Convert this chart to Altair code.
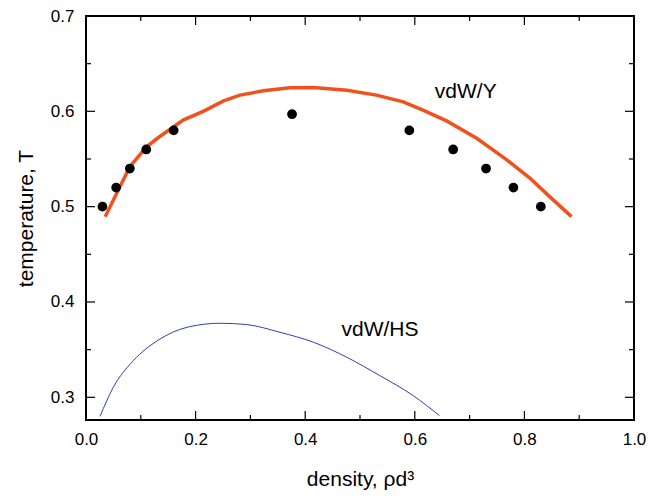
import altair as alt
import pandas as pd

# simulation points
pts_density = [0.03, 0.055, 0.08, 0.11, 0.16, 0.376, 0.59, 0.67, 0.73, 0.78, 0.83]
pts_temp = [0.50, 0.52, 0.54, 0.56, 0.58, 0.597, 0.58, 0.56, 0.54, 0.52, 0.50]

# vdW/Y curve
vy_density = [0.035, 0.056, 0.080, 0.111, 0.131, 0.178, 0.214, 0.251, 0.281, 0.324,
              0.372, 0.415, 0.476, 0.530, 0.579, 0.616, 0.658, 0.713, 0.768, 0.810,
              0.847, 0.886]
vy_temp = [0.4895, 0.514, 0.542, 0.563, 0.572, 0.591, 0.600, 0.611, 0.617, 0.6215,
           0.6247, 0.625, 0.622, 0.617, 0.610, 0.601, 0.590, 0.5717, 0.549, 0.530,
           0.510, 0.4895]

# vdW/HS curve
hs_density = [0.0255, 0.0498, 0.0864, 0.132, 0.184, 0.2445, 0.293, 0.354, 0.415,
              0.476, 0.536, 0.597, 0.645]
hs_temp = [0.280, 0.3105, 0.3385, 0.360, 0.3734, 0.3777, 0.3763, 0.3682, 0.3578,
           0.342, 0.3228, 0.3018, 0.2808]

# annotations
label_text = ["vdW/Y", "vdW/HS"]
label_x = [0.693, 0.5365]
label_y = [0.6207, 0.371]

# ticks
x_major = [0.0, 0.2, 0.4, 0.6, 0.8, 1.0]
x_minor = [0.1, 0.3, 0.5, 0.7, 0.9]
y_major = [0.3, 0.4, 0.5, 0.6, 0.7]
y_minor = [0.35, 0.45, 0.55, 0.65]

W, H = 548, 404
FONT = "Liberation Sans"

xs = alt.Scale(domain=[0, 1], nice=False, zero=False)
ys = alt.Scale(domain=[0.2762, 0.7], nice=False, zero=False)

pts = pd.DataFrame({"d": pts_density, "t": pts_temp})
vy = pd.DataFrame({"d": vy_density, "t": vy_temp, "o": range(len(vy_density))})
hs = pd.DataFrame({"d": hs_density, "t": hs_temp, "o": range(len(hs_density))})
labels = pd.DataFrame({"d": label_x, "t": label_y, "txt": label_text})

x_axis = alt.Axis(values=x_major, format=".1f", ticks=False, domain=False, grid=False,
                  labelFlush=False, labelPadding=11,
                  title="density, ρd³", titlePadding=21)
y_axis = alt.Axis(values=y_major, format=".1f", ticks=False, domain=False, grid=False,
                  labelFlush=False, labelPadding=12,
                  title="temperature, T", titlePadding=14)


def X(field):
    return alt.X(field, scale=xs, axis=x_axis)


def Y(field):
    return alt.Y(field, scale=ys, axis=y_axis)


hs_line = alt.Chart(hs).mark_line(color="#3040b0", strokeWidth=1, interpolate="monotone").encode(
    x=X("d:Q"), y=Y("t:Q"), order="o:Q",
)
vy_line = alt.Chart(vy).mark_line(color="#f0521e", strokeWidth=3.5).encode(
    x=X("d:Q"), y=Y("t:Q"), order="o:Q",
)
dots = alt.Chart(pts).mark_circle(color="black", opacity=1, size=95).encode(
    x=X("d:Q"), y=Y("t:Q"),
)
txt = alt.Chart(labels).mark_text(font=FONT, fontSize=21, color="black").encode(
    x=X("d:Q"), y=Y("t:Q"), text="txt:N",
)


def xticks(vals, length):
    df = pd.DataFrame({"d": vals})
    base = alt.Chart(df).mark_rule(color="black", strokeWidth=1.2)
    bottom = base.encode(x=X("d:Q"), y=alt.value(H), y2=alt.value(H - length))
    top = base.encode(x=X("d:Q"), y=alt.value(0), y2=alt.value(length))
    return [bottom, top]


def yticks(vals, length):
    df = pd.DataFrame({"t": vals})
    base = alt.Chart(df).mark_rule(color="black", strokeWidth=1.2)
    left = base.encode(y=Y("t:Q"), x=alt.value(0), x2=alt.value(length))
    right = base.encode(y=Y("t:Q"), x=alt.value(W), x2=alt.value(W - length))
    return [left, right]


tick_layers = xticks(x_major, 9) + xticks(x_minor, 5) + yticks(y_major, 9) + yticks(y_minor, 5)

chart = alt.layer(hs_line, vy_line, dots, txt, *tick_layers).properties(
    width=W, height=H,
    autosize=alt.AutoSizeParams(type="none"),
    padding={"left": 78, "top": 8, "right": 20, "bottom": 70},
).configure_view(
    stroke="black", strokeWidth=2
).configure_axis(
    labelFont=FONT, labelFontSize=17, labelColor="black",
    titleFont=FONT, titleFontSize=21, titleColor="black", titleFontWeight="normal",
)

chart.save("out.html", embed_options={"renderer": "svg", "actions": False})
